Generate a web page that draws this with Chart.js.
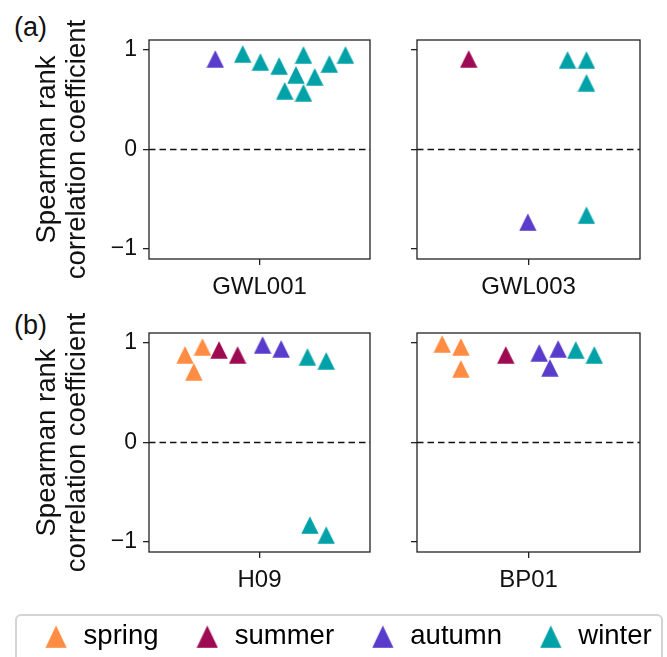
<!DOCTYPE html>
<html>
<head>
<meta charset="utf-8">
<script src="https://cdn.jsdelivr.net/npm/chart.js@4/dist/chart.umd.min.js"></script>
<style>
  body { margin: 0; background: #fff; width: 667px; height: 657px; overflow: hidden; position: relative;
         font-family: "Liberation Sans", Arial, sans-serif; }
  canvas { position: absolute; }
  .tag { position: absolute; font-size: 27px; line-height: 1; color: #111; }
  #legendBox { position: absolute; left: 15px; top: 614px; width: 648px; height: 70px;
               border: 2px solid #d4d4d4; border-radius: 6px; box-sizing: border-box; }
</style>
</head>
<body>
<div class="tag" style="left:14px;top:14px">(a)</div>
<div class="tag" style="left:14px;top:312px">(b)</div>
<div id="legendBox"></div>
<canvas id="c0" width="380" height="300" style="left:0;top:0"></canvas>
<canvas id="c1" width="270" height="300" style="left:380px;top:0"></canvas>
<canvas id="c2" width="380" height="300" style="left:0;top:293px"></canvas>
<canvas id="c3" width="270" height="300" style="left:380px;top:293px"></canvas>
<canvas id="leg" width="700" height="230" style="left:-3px;top:588px"></canvas>
<script>
// seasons and their colours
const seasons = ['spring', 'summer', 'autumn', 'winter'];
const seasonColors = ['#ff8c42', '#9e0a52', '#5a3ccc', '#00a2a8'];

// y axis
const yTicks = [-1, 0, 1];
const yMin = -1.1, yMax = 1.1;
// x axis is a 0..100 jitter range with a single labelled tick in the middle
const xMin = 0, xMax = 100, xCenter = 50;

// panel names (x tick labels)
const panelNames = ['GWL001', 'GWL003', 'H09', 'BP01'];

// GWL001
const gwl001Season = ['autumn', 'winter', 'winter', 'winter', 'winter', 'winter', 'winter', 'winter', 'winter', 'winter', 'winter'];
const gwl001X = [30.0, 42.4, 50.4, 58.9, 61.4, 66.5, 69.9, 69.9, 75.0, 81.6, 88.9];
const gwl001Y = [0.91, 0.96, 0.88, 0.84, 0.59, 0.75, 0.95, 0.57, 0.73, 0.86, 0.95];

// GWL003
const gwl003Season = ['summer', 'autumn', 'winter', 'winter', 'winter', 'winter'];
const gwl003X = [23.2, 49.7, 67.5, 76.0, 76.0, 76.0];
const gwl003Y = [0.91, -0.73, 0.90, 0.90, 0.67, -0.66];

// H09
const h09Season = ['spring', 'spring', 'spring', 'summer', 'summer', 'autumn', 'autumn', 'winter', 'winter', 'winter', 'winter'];
const h09X = [16.3, 20.3, 24.2, 31.7, 40.1, 51.4, 59.8, 71.7, 80.2, 72.8, 80.2];
const h09Y = [0.88, 0.71, 0.96, 0.93, 0.88, 0.98, 0.94, 0.86, 0.82, -0.83, -0.93];

// BP01
const bp01Season = ['spring', 'spring', 'spring', 'summer', 'autumn', 'autumn', 'autumn', 'winter', 'winter'];
const bp01X = [11.3, 19.7, 19.7, 39.8, 54.8, 63.3, 59.6, 71.2, 79.5];
const bp01Y = [0.99, 0.96, 0.74, 0.88, 0.90, 0.94, 0.75, 0.93, 0.88];

const FONT = '"Liberation Sans", Arial, sans-serif';
const INK = '#111';

// matplotlib-like '^' marker (box centred on the data point)
function triangle(color, w, h) {
  const c = document.createElement('canvas');
  c.width = w; c.height = h;
  const g = c.getContext('2d');
  g.fillStyle = color;
  g.beginPath();
  g.moveTo(w / 2, 0.3);
  g.lineTo(w - 0.3, h - 0.3);
  g.lineTo(0.3, h - 0.3);
  g.closePath();
  g.fill();
  return c;
}
const markers = seasonColors.map(c => triangle(c, 18, 18));
const legendMarkers = seasonColors.map(c => triangle(c, 22, 23));

// frame around the plot area + dashed zero line
const framePlugin = {
  id: 'frame',
  beforeDatasetsDraw(chart) {
    const ctx = chart.ctx, a = chart.chartArea;
    const y0 = chart.scales.y.getPixelForValue(0);
    ctx.save();
    ctx.strokeStyle = INK;
    ctx.lineWidth = 1.5;
    ctx.setLineDash([6.5, 4]);
    ctx.beginPath();
    ctx.moveTo(a.left, y0);
    ctx.lineTo(a.right, y0);
    ctx.stroke();
    ctx.restore();
  },
  afterDraw(chart) {
    const ctx = chart.ctx, a = chart.chartArea;
    ctx.save();
    ctx.strokeStyle = '#222';
    ctx.lineWidth = 1.3;
    ctx.strokeRect(a.left, a.top, a.right - a.left, a.bottom - a.top);
    ctx.restore();
  }
};

function makePanel(id, name, seasonArr, xs, ys, isLeft) {
  const datasets = seasons.map((s, i) => ({
    label: s,
    data: xs.map((x, k) => ({ x: x, y: ys[k], s: seasonArr[k] }))
            .filter(p => p.s === s)
            .map(p => ({ x: p.x, y: p.y })),
    pointStyle: markers[i],
    pointRadius: 9,
    backgroundColor: seasonColors[i],
    borderColor: seasonColors[i]
  })).filter(d => d.data.length > 0);

  new Chart(document.getElementById(id), {
    type: 'scatter',
    data: { datasets: datasets },
    options: {
      responsive: false,
      animation: false,
      events: [],
      layout: { padding: { top: 40, right: isLeft ? 4 : 5, left: 0, bottom: 0 } },
      plugins: { legend: { display: false }, tooltip: { enabled: false } },
      scales: {
        x: {
          type: 'linear', min: xMin, max: xMax,
          afterBuildTicks: s => { s.ticks = [{ value: xCenter }]; },
          afterFit: s => { s.height = 41; },
          ticks: { padding: 8, color: INK, maxRotation: 0, autoSkip: false,
                   font: { size: 24, family: FONT }, callback: () => name },
          grid: { drawOnChartArea: false, drawTicks: true, tickLength: 6, color: '#222', lineWidth: 1.3 },
          border: { display: false }
        },
        y: {
          type: 'linear', min: yMin, max: yMax,
          afterBuildTicks: s => { s.ticks = yTicks.map(v => ({ value: v })); },
          afterFit: s => { s.width = isLeft ? 149 : 37; },
          ticks: { display: isLeft, padding: 6, color: INK, font: { size: 23, family: FONT },
                   callback: v => (v < 0 ? '\u2212' + Math.abs(v) : String(v)) },
          grid: { drawOnChartArea: false, drawTicks: true, tickLength: 6, color: '#222', lineWidth: 1.3 },
          border: { display: false },
          title: { display: isLeft, text: ['Spearman rank', 'correlation coefficient'], color: INK,
                   font: { size: 27.5, family: FONT, lineHeight: 1.1 }, padding: { top: 32, bottom: 0 } }
        }
      }
    },
    plugins: [framePlugin]
  });
}

makePanel('c0', panelNames[0], gwl001Season, gwl001X, gwl001Y, true);
makePanel('c1', panelNames[1], gwl003Season, gwl003X, gwl003Y, false);
makePanel('c2', panelNames[2], h09Season, h09X, h09Y, true);
makePanel('c3', panelNames[3], bp01Season, bp01X, bp01Y, false);

// shared legend
new Chart(document.getElementById('leg'), {
  type: 'scatter',
  data: { datasets: seasons.map((s, i) => ({ label: s, data: [], backgroundColor: seasonColors[i] })) },
  options: {
    responsive: false,
    animation: false,
    events: [],
    scales: { x: { display: false }, y: { display: false } },
    plugins: {
      tooltip: { enabled: false },
      legend: {
        position: 'top',
        labels: {
          usePointStyle: true,
          padding: 35,
          color: INK,
          font: { size: 27.5, family: FONT },
          generateLabels: () => seasons.map((s, i) => ({
            text: s, fillStyle: seasonColors[i], strokeStyle: seasonColors[i], lineWidth: 0,
            pointStyle: legendMarkers[i], hidden: false, datasetIndex: i
          }))
        }
      }
    }
  }
});
</script>
</body>
</html>
